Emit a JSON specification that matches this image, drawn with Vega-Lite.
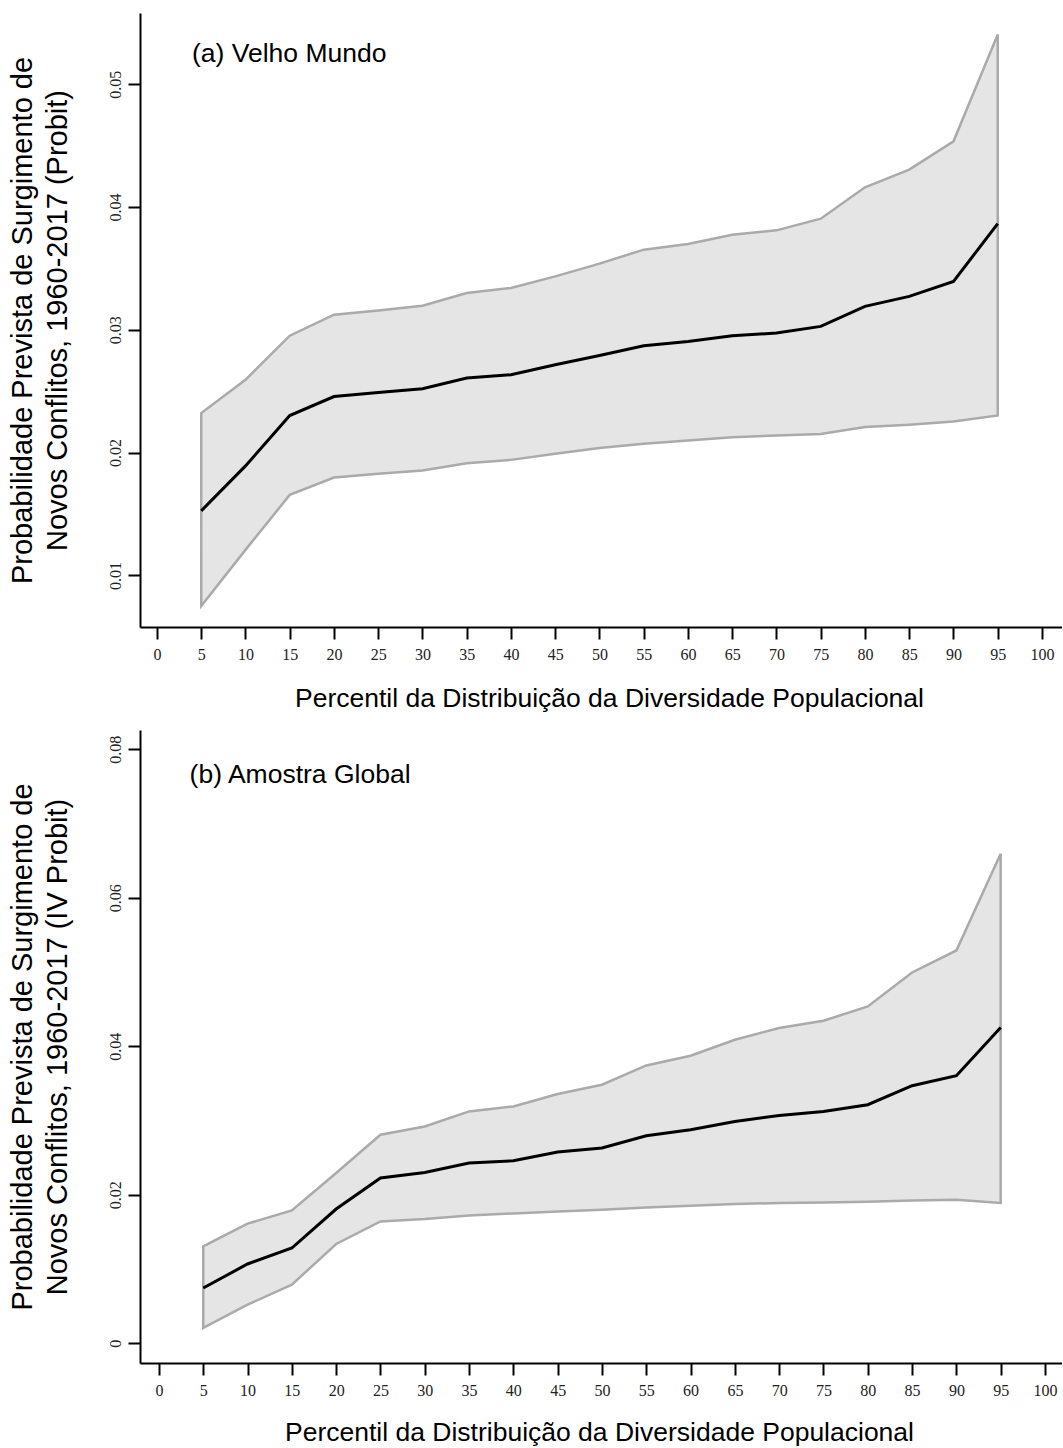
{
  "$schema": "https://vega.github.io/schema/vega-lite/v6.json",
  "padding": {"left": 8, "top": 13, "right": 0, "bottom": 0},
  "background": "white",
  "bounds": "flush",
  "spacing": 103,
  "config": {
    "view": {"stroke": null},
    "axis": {
      "grid": false,
      "domainColor": "#000",
      "domainWidth": 2,
      "tickColor": "#000",
      "tickWidth": 2,
      "tickSize": 12,
      "labelFont": "Liberation Serif",
      "labelFontSize": 16,
      "labelColor": "#222",
      "titleFont": "Liberation Sans",
      "titleFontWeight": "normal",
      "titleColor": "#000"
    }
  },
  "datasets": {
    "a": [
      {"p": 5, "lo": 0.00751, "mean": 0.01526, "hi": 0.02322},
      {"p": 10, "lo": 0.01208, "mean": 0.01892, "hi": 0.02593},
      {"p": 15, "lo": 0.01656, "mean": 0.02302, "hi": 0.02952},
      {"p": 20, "lo": 0.01797, "mean": 0.02457, "hi": 0.03123},
      {"p": 25, "lo": 0.01827, "mean": 0.0249, "hi": 0.03158},
      {"p": 30, "lo": 0.01854, "mean": 0.0252, "hi": 0.03196},
      {"p": 35, "lo": 0.01914, "mean": 0.02607, "hi": 0.033},
      {"p": 40, "lo": 0.01941, "mean": 0.02634, "hi": 0.03341},
      {"p": 45, "lo": 0.0199, "mean": 0.02716, "hi": 0.03435},
      {"p": 50, "lo": 0.02037, "mean": 0.02791, "hi": 0.03539},
      {"p": 55, "lo": 0.02072, "mean": 0.0287, "hi": 0.03653},
      {"p": 60, "lo": 0.02099, "mean": 0.02905, "hi": 0.03699},
      {"p": 65, "lo": 0.02126, "mean": 0.02952, "hi": 0.03775},
      {"p": 70, "lo": 0.0214, "mean": 0.02974, "hi": 0.0381},
      {"p": 75, "lo": 0.02151, "mean": 0.03028, "hi": 0.03905},
      {"p": 80, "lo": 0.02208, "mean": 0.03191, "hi": 0.04161},
      {"p": 85, "lo": 0.02227, "mean": 0.03272, "hi": 0.04305},
      {"p": 90, "lo": 0.02254, "mean": 0.03394, "hi": 0.04535},
      {"p": 95, "lo": 0.02303, "mean": 0.03865, "hi": 0.05405}
    ],
    "b": [
      {"p": 5, "lo": 0.00205, "mean": 0.00743, "hi": 0.01304},
      {"p": 10, "lo": 0.00519, "mean": 0.01067, "hi": 0.0161},
      {"p": 15, "lo": 0.00788, "mean": 0.01282, "hi": 0.01789},
      {"p": 20, "lo": 0.01336, "mean": 0.01807, "hi": 0.02292},
      {"p": 25, "lo": 0.0164, "mean": 0.02225, "hi": 0.02808},
      {"p": 30, "lo": 0.01673, "mean": 0.023, "hi": 0.0292},
      {"p": 35, "lo": 0.01721, "mean": 0.02427, "hi": 0.03122},
      {"p": 40, "lo": 0.01748, "mean": 0.02458, "hi": 0.03189},
      {"p": 45, "lo": 0.01775, "mean": 0.02575, "hi": 0.03356},
      {"p": 50, "lo": 0.01798, "mean": 0.02629, "hi": 0.03481},
      {"p": 55, "lo": 0.01829, "mean": 0.02795, "hi": 0.03741},
      {"p": 60, "lo": 0.01852, "mean": 0.02875, "hi": 0.03872},
      {"p": 65, "lo": 0.01875, "mean": 0.02987, "hi": 0.04088},
      {"p": 70, "lo": 0.01888, "mean": 0.03068, "hi": 0.04245},
      {"p": 75, "lo": 0.01896, "mean": 0.03122, "hi": 0.04343},
      {"p": 80, "lo": 0.01906, "mean": 0.03212, "hi": 0.04536},
      {"p": 85, "lo": 0.01923, "mean": 0.03468, "hi": 0.04994},
      {"p": 90, "lo": 0.01933, "mean": 0.03603, "hi": 0.0529},
      {"p": 95, "lo": 0.01888, "mean": 0.04253, "hi": 0.06593}
    ]
  },
  "vconcat": [
    {
      "width": 922,
      "height": 614,
      "layer": [
        {
          "data": {"name": "a"},
          "mark": {"type": "area", "fill": "#e5e5e5", "stroke": "#aaaaaa", "strokeWidth": 2.5},
          "encoding": {
            "x": {
              "field": "p", "type": "quantitative",
              "scale": {"domain": [-1.92, 102.26], "nice": false, "zero": false},
              "axis": {
                "values": [0, 5, 10, 15, 20, 25, 30, 35, 40, 45, 50, 55, 60, 65, 70, 75, 80, 85, 90, 95, 100],
                "title": "Percentil da Distribuição da Diversidade Populacional",
                "titleFontSize": 26.5,
                "labelPadding": 7,
                "titlePadding": 23,
                "labelFlush": false,
                "labelOverlap": false,
                "titleX": 469
              }
            },
            "y": {
              "field": "lo", "type": "quantitative",
              "scale": {"domain": [0.0058, 0.0558], "nice": false, "zero": false},
              "axis": {
                "values": [0.01, 0.02, 0.03, 0.04, 0.05],
                "format": ".2f",
                "labelAngle": -90,
                "labelAlign": "center",
                "labelBaseline": "bottom",
                "labelPadding": 5,
                "title": ["Probabilidade Prevista de Surgimento de", "Novos Conflitos, 1960-2017 (Probit)"],
                "titleFontSize": 29,
                "titleLineHeight": 35,
                "titlePadding": 35
              }
            },
            "y2": {"field": "hi"}
          }
        },
        {
          "data": {"name": "a"},
          "mark": {"type": "line", "color": "#000", "strokeWidth": 3},
          "encoding": {
            "x": {"field": "p", "type": "quantitative"},
            "y": {"field": "mean", "type": "quantitative"}
          }
        },
        {
          "data": {"values": [{}]},
          "mark": {"type": "text", "align": "left", "baseline": "alphabetic", "font": "Liberation Sans", "fontSize": 26.5, "color": "#000"},
          "encoding": {
            "x": {"datum": 3.95, "type": "quantitative"},
            "y": {"datum": 0.0518, "type": "quantitative"},
            "text": {"value": "(a) Velho Mundo"}
          }
        }
      ]
    },
    {
      "width": 922,
      "height": 633,
      "layer": [
        {
          "data": {"name": "b"},
          "mark": {"type": "area", "fill": "#e5e5e5", "stroke": "#aaaaaa", "strokeWidth": 2.5},
          "encoding": {
            "x": {
              "field": "p", "type": "quantitative",
              "scale": {"domain": [-2.14, 101.92], "nice": false, "zero": false},
              "axis": {
                "values": [0, 5, 10, 15, 20, 25, 30, 35, 40, 45, 50, 55, 60, 65, 70, 75, 80, 85, 90, 95, 100],
                "title": "Percentil da Distribuição da Diversidade Populacional",
                "titleFontSize": 26.5,
                "labelPadding": 7,
                "titlePadding": 21,
                "labelFlush": false,
                "labelOverlap": false,
                "titleX": 459
              }
            },
            "y": {
              "field": "lo", "type": "quantitative",
              "scale": {"domain": [-0.00267, 0.0826], "nice": false, "zero": false},
              "axis": {
                "values": [0, 0.02, 0.04, 0.06, 0.08],
                "labelExpr": "datum.value == 0 ? '0' : format(datum.value, '.2f')",
                "labelAngle": -90,
                "labelAlign": "center",
                "labelBaseline": "bottom",
                "labelPadding": 5,
                "title": ["Probabilidade Prevista de Surgimento de", "Novos Conflitos, 1960-2017 (IV Probit)"],
                "titleFontSize": 29,
                "titleLineHeight": 35,
                "titlePadding": 35
              }
            },
            "y2": {"field": "hi"}
          }
        },
        {
          "data": {"name": "b"},
          "mark": {"type": "line", "color": "#000", "strokeWidth": 3},
          "encoding": {
            "x": {"field": "p", "type": "quantitative"},
            "y": {"field": "mean", "type": "quantitative"}
          }
        },
        {
          "data": {"values": [{}]},
          "mark": {"type": "text", "align": "left", "baseline": "alphabetic", "font": "Liberation Sans", "fontSize": 26.5, "color": "#000"},
          "encoding": {
            "x": {"datum": 3.46, "type": "quantitative"},
            "y": {"datum": 0.0755, "type": "quantitative"},
            "text": {"value": "(b) Amostra Global"}
          }
        }
      ]
    }
  ]
}
